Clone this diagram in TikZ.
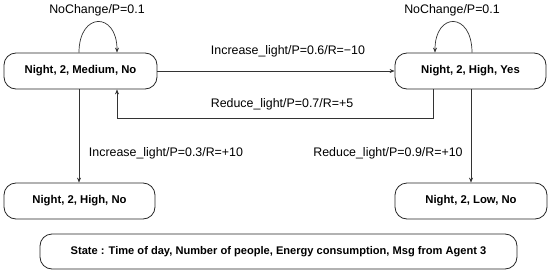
\documentclass[tikz,border=0pt]{standalone}
\usepackage{fontspec}
\setmainfont{Liberation Sans}
\usetikzlibrary{arrows.meta,calc}
\begin{document}
\begin{tikzpicture}[x=1pt,y=-1pt,
  state/.style={draw=black!85,line width=0.8pt,rounded corners=12pt,minimum height=36pt,
    inner sep=0pt,font=\fontsize{11.3}{13}\selectfont\bfseries},
  arr/.style={draw=black!80,line width=0.7pt,-{Stealth[length=5pt,width=4pt]}},
  lbl/.style={font=\fontsize{12.4}{14}\selectfont,inner sep=0pt}]
\useasboundingbox (0,0) rectangle (550,276);
\node[state,minimum width=153pt] (A) at (80.5,71) {Night, 2, Medium, No};
\node[state,minimum width=151pt] (B) at (470.5,71) {Night, 2, High, Yes};
\node[state,minimum width=151pt] (C) at (79.5,201) {Night, 2, High, No};
\node[state,minimum width=152pt] (D) at (471,201) {Night, 2, Low, No};
\node[state,minimum width=477pt,minimum height=35pt,font=\fontsize{11.1}{13}\selectfont\bfseries] (S) at (278.5,251.5) {State : Time of day, Number of people, Energy consumption, Msg from Agent 3};
% loops
\draw[arr] ([xshift=-1.5pt]A.north) .. controls +(0,-41) and +(0,-41) .. ([xshift=36.5pt]A.north);
\draw[arr] ([xshift=1.5pt]B.north) .. controls +(0,-41) and +(0,-41) .. ([xshift=-35.5pt]B.north);
\node[lbl] (l1) at (97,10) {NoChange/P=0.1};
\node[lbl] (l2) at (452,10) {NoChange/P=0.1};
% A -> B
\draw[arr] (A.east) -- (B.west);
\node[lbl] (l3) at (288,51) {Increase\_light/P=0.6/R=−10};
% B -> A
\draw[arr] ([xshift=-37.5pt]B.south) -- ++(0,29) -| ([xshift=36.5pt]A.south);
\node[lbl] (l4) at (282,104) {Reduce\_light/P=0.7/R=+5};
% A -> C
\draw[arr] ([xshift=-1.5pt]A.south) -- ([xshift=-0.5pt]C.north);
\node[lbl] (l5) at (166,153) {Increase\_light/P=0.3/R=+10};
% B -> D
\draw[arr] ([xshift=0.5pt]B.south) -- (D.north);
\node[lbl] (l6) at (388,153) {Reduce\_light/P=0.9/R=+10};
\end{tikzpicture}
\end{document}
